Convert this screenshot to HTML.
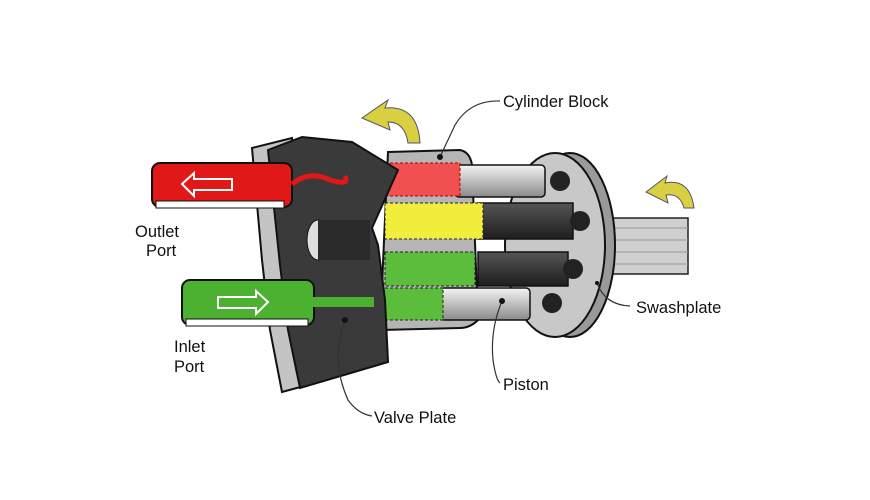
<!DOCTYPE html>
<html><head><style>
html,body{margin:0;padding:0;background:#fff;}
svg{display:block;}
text{font-family:"Liberation Sans",Arial,sans-serif;font-size:16.5px;fill:#111;}
</style></head><body>
<svg width="870" height="500" viewBox="0 0 870 500" xmlns="http://www.w3.org/2000/svg">
<defs>
<linearGradient id="lg" x1="0" y1="0" x2="0" y2="1"><stop offset="0" stop-color="#f4f4f4"/><stop offset="1" stop-color="#8a8a8a"/></linearGradient>
<linearGradient id="dg" x1="0" y1="0" x2="0" y2="1"><stop offset="0" stop-color="#555"/><stop offset="1" stop-color="#1e1e1e"/></linearGradient>
</defs>
<!-- shaft -->
<rect x="600" y="218" width="88" height="56" fill="#cfcfcf" stroke="#222" stroke-width="1.5"/>
<g stroke="#999" stroke-width="1"><line x1="610" y1="228" x2="688" y2="228"/><line x1="610" y1="240" x2="688" y2="240"/><line x1="610" y1="252" x2="688" y2="252"/><line x1="610" y1="264" x2="688" y2="264"/></g>
<!-- swashplate -->
<ellipse cx="570" cy="245" rx="45" ry="92" fill="#9a9a9a" stroke="#111" stroke-width="2"/>
<ellipse cx="555" cy="245" rx="50" ry="92" fill="#c8c8c8" stroke="#111" stroke-width="2"/>
<!-- cylinder block body -->
<path d="M388 152 L460 150 Q470 152 472 165 L478 320 Q470 328 460 328 L380 330 Z" fill="#b5b5b5" stroke="#111" stroke-width="2"/>
<!-- pistons rear -->
<rect x="455" y="165" width="90" height="32" rx="4" fill="url(#lg)" stroke="#111" stroke-width="1.5"/>
<rect x="478" y="203" width="95" height="36" fill="url(#dg)" stroke="#111" stroke-width="1.5"/>
<rect x="478" y="252" width="90" height="34" fill="url(#dg)" stroke="#111" stroke-width="1.5"/>
<rect x="440" y="288" width="90" height="32" rx="4" fill="url(#lg)" stroke="#111" stroke-width="1.5"/>
<g fill="#222"><circle cx="560" cy="181" r="10"/><circle cx="580" cy="221" r="10"/><circle cx="573" cy="269" r="10"/><circle cx="552" cy="303" r="10"/></g>
<!-- colored cylinders -->
<rect x="385" y="163" width="75" height="33" fill="#f05050" stroke="#a00" stroke-width="1" stroke-dasharray="3,2"/>
<rect x="385" y="203" width="98" height="36" fill="#f2ec3c" stroke="#222" stroke-width="1" stroke-dasharray="3,2"/>
<rect x="385" y="252" width="90" height="34" fill="#5cbc3c" stroke="#222" stroke-width="1" stroke-dasharray="3,2"/>
<rect x="375" y="288" width="68" height="32" fill="#5cbc3c" stroke="#222" stroke-width="1" stroke-dasharray="3,2"/>
<!-- valve plate side -->
<polygon points="252,148 292,138 308,385 282,392 270,330 262,260" fill="#c4c4c4" stroke="#111" stroke-width="2"/>
<!-- valve plate dark -->
<polygon points="268,150 302,137 352,142 398,170 372,228 378,245 385,300 388,362 300,388 288,330 280,265" fill="#3a3a3a" stroke="#111" stroke-width="2"/>
<ellipse cx="318" cy="240" rx="11" ry="20" fill="#ddd" stroke="#111"/>
<rect x="318" y="220" width="52" height="40" fill="#2a2a2a"/>
<!-- red pipe -->
<rect x="152" y="163" width="140" height="44" rx="8" fill="#e01818" stroke="#111" stroke-width="2"/>
<rect x="156" y="201" width="128" height="7" fill="#fff" stroke="#111"/>
<path d="M292 184 Q310 170 330 180 Q350 186 345 176" fill="none" stroke="#e01818" stroke-width="5"/>
<path d="M182 184 L194 173 L194 179 L232 179 L232 190 L194 190 L194 196 Z" fill="none" stroke="#fff" stroke-width="2"/>
<!-- green pipe -->
<rect x="182" y="280" width="132" height="45" rx="8" fill="#4cb030" stroke="#111" stroke-width="2"/>
<rect x="186" y="319" width="122" height="7" fill="#fff" stroke="#111"/>
<rect x="312" y="297" width="62" height="10" fill="#4cb030"/>
<path d="M268 302 L256 291 L256 297 L218 297 L218 308 L256 308 L256 314 Z" fill="none" stroke="#fff" stroke-width="2"/>
<!-- rotation arrows -->
<path d="M420 143 Q418 105 385 108 L388 100 L362 118 L390 130 L388 122 Q405 122 408 143 Z" fill="#d8d040" stroke="#556" stroke-width="1"/>
<path d="M694 208 Q690 178 665 183 L667 176 L646 192 L668 203 L666 195 Q680 193 684 208 Z" fill="#d8d040" stroke="#556" stroke-width="1"/>
<!-- leader lines -->
<g fill="none" stroke="#333" stroke-width="1.2">
<path d="M500 101 Q470 100 455 125 L440 157"/>
<path d="M597 283 Q605 305 630 306"/>
<path d="M502 301 Q490 330 493 360 Q496 380 500 383"/>
<path d="M345 320 Q330 360 348 400 Q358 414 372 416"/>
</g>
<g fill="#111"><circle cx="440" cy="157" r="3"/><circle cx="502" cy="301" r="3"/><circle cx="345" cy="320" r="3"/><circle cx="597" cy="283" r="2"/></g>
<text x="503" y="107">Cylinder Block</text>
<text x="135" y="237">Outlet</text>
<text x="146" y="256">Port</text>
<text x="174" y="352">Inlet</text>
<text x="174" y="372">Port</text>
<text x="636" y="313">Swashplate</text>
<text x="503" y="390">Piston</text>
<text x="374" y="423">Valve Plate</text>
</svg>
</body></html>
